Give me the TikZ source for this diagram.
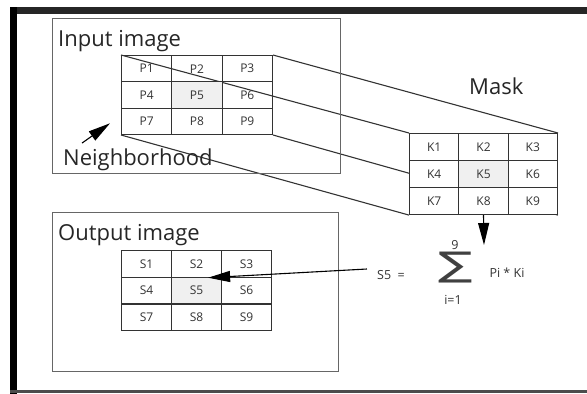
\documentclass[tikz,border=0pt]{standalone}
\usepackage{fontspec}
\setmainfont{Open Sans}
\newfontfamily\symfont{DejaVu Sans}
\usepackage{tikz}
\usetikzlibrary{arrows.meta, positioning, backgrounds, calc}

\definecolor{boxgray}{HTML}{666666}
\definecolor{linegray}{HTML}{333333}

\begin{document}
\begin{tikzpicture}[x=1pt, y=-1pt,
    cell/.style={draw=linegray, line width=1.1pt, inner sep=0pt, anchor=north west, font=\fontsize{12}{12}\selectfont, text=black!80},
    imgbox/.style={draw=boxgray, line width=1.4pt, inner sep=0pt, anchor=north west},
    title/.style={anchor=base west, inner sep=0pt, font=\fontsize{22}{22}\selectfont, text=black!85},
    formula/.style={inner sep=0pt, font=\fontsize{12.5}{12.5}\selectfont, text=black!80},
    pointer/.style={-{Triangle[length=22pt, width=11pt]}, line width=1.1pt, black}]

    \useasboundingbox (0,0) rectangle (587,394);
    % screenshot frame
    \fill[black!85] (10,7) rectangle (587,14);
    \fill[black] (10,7) rectangle (17,394);
    \fill[black!70] (10,390) rectangle (587,393);

    % image boxes and titles
    \node (inbox) [imgbox, minimum width=288pt, minimum height=155pt] at (52,18) {};
    \node (outbox) [imgbox, minimum width=286pt, minimum height=159pt] at (52,212) {};
    \node (intitle) [title] at (58,46) {Input image};
    \node (nbr) [title] at (63,165) {Neighborhood};
    \node (masktitle) [title] at (469,94) {Mask};
    \node (outtitle) [title] at (58,240) {Output image};

    % neighborhood P1..P9
    \foreach \i in {1,...,9} {
        \pgfmathtruncatemacro\col{mod(\i-1,3)}
        \pgfmathtruncatemacro\row{div(\i-1,3)}
        \ifnum\i=5 \def\cellfill{gray!12}\else \def\cellfill{none}\fi
        \node (p\i) [cell, fill=\cellfill, minimum width=50.3pt, minimum height=26.3pt] at (121+50.3*\col, 55+26.3*\row) {P\i};
    }

    % mask K1..K9
    \foreach \i in {1,...,9} {
        \pgfmathtruncatemacro\col{mod(\i-1,3)}
        \pgfmathtruncatemacro\row{div(\i-1,3)}
        \ifnum\i=5 \def\cellfill{gray!12}\else \def\cellfill{white}\fi
        \node (k\i) [cell, fill=\cellfill, minimum width=49.3pt, minimum height=27pt] at (409+49.3*\col, 133+27*\row) {K\i};
    }

    % output S1..S9
    \foreach \i in {1,...,9} {
        \pgfmathtruncatemacro\col{mod(\i-1,3)}
        \pgfmathtruncatemacro\row{div(\i-1,3)}
        \ifnum\i=5 \def\cellfill{gray!12}\else \def\cellfill{white}\fi
        \node (s\i) [cell, fill=\cellfill, minimum width=50pt, minimum height=26.7pt] at (121+50*\col, 250+26.7*\row) {S\i};
    }

    % projection of the neighborhood onto the mask
    \begin{scope}[on background layer]
        \draw [linegray, line width=1.1pt] (p1.north west) -- (k1.north west);
        \draw [linegray, line width=1.1pt] (p3.north east) -- (k3.north east);
        \draw [linegray, line width=1.1pt] (p7.south west) -- (k7.south west);
        \draw [linegray, line width=1.1pt] (p9.south east) -- (k9.south east);
    \end{scope}

    % formula
    \node (s5eq) [formula] at (391,275) {S5\ \ =};
    \node (sum) [inner sep=0pt, text=black!75] at (456,268) {\scalebox{1.5}[1]{\symfont\fontsize{34}{34}\selectfont ∑}};
    \node (upper) [formula] at (455,245) {9};
    \node (lower) [formula] at (453,300) {i=1};
    \node (term) [formula] at (507,273) {Pi * Ki};
    \coordinate (hit) at (484,245);

    \draw [pointer] ($(nbr.north west)+(19,-5)$) -- ($(p7.west)+(-11,2)$);
    \draw [pointer] (k8.south) -- (hit);
    \draw [pointer] ($(s5eq.west)+(-10,-6)$) -- ($(s5.north east)+(-14,1)$);
\end{tikzpicture}
\end{document}
